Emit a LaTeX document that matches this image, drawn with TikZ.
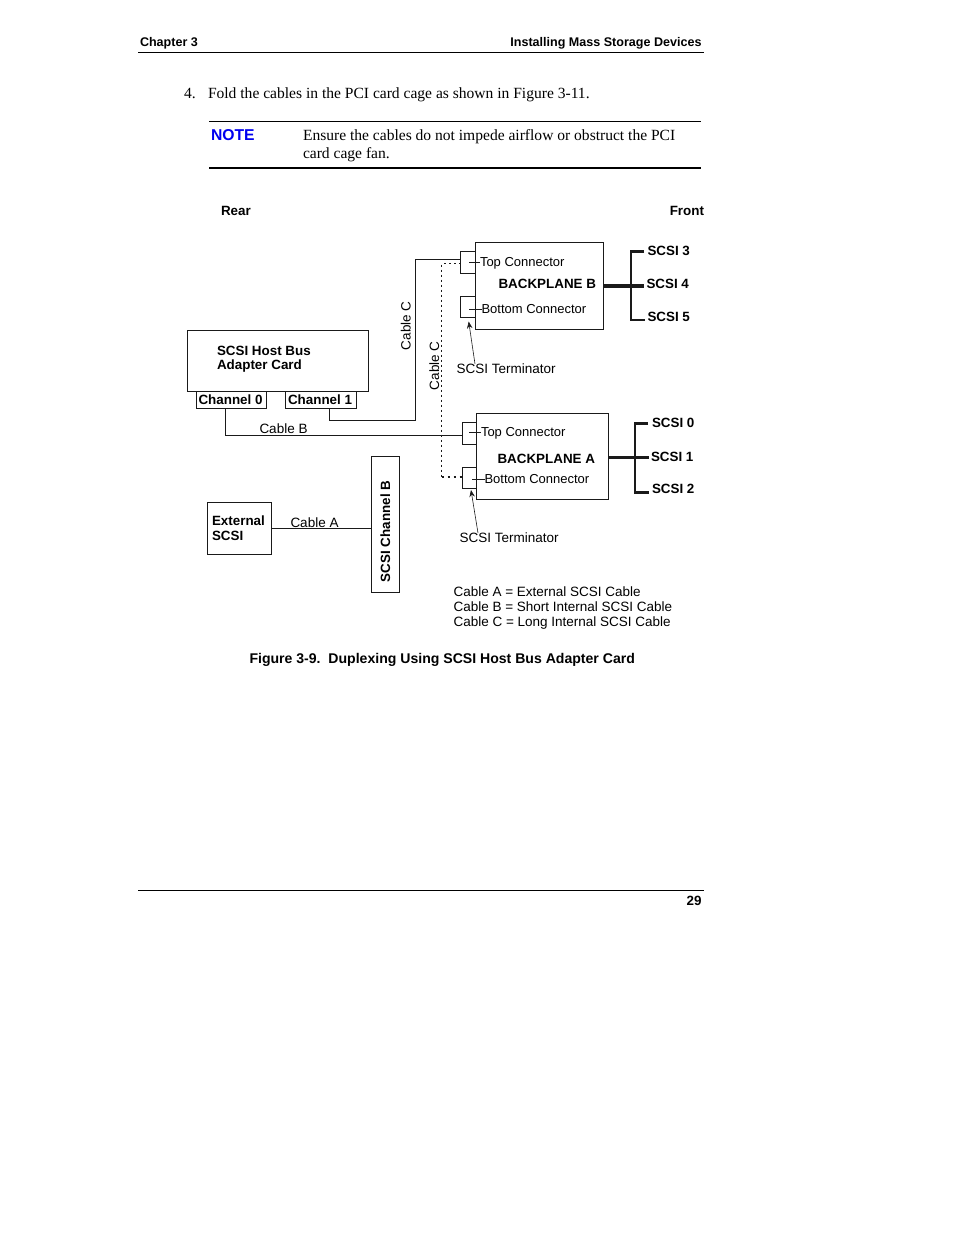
\documentclass[tikz,border=0pt]{standalone}
\usepackage{fontspec}
\setmainfont{Liberation Sans}
\newfontfamily\serifface{Liberation Serif}
\usetikzlibrary{arrows.meta,calc}
\definecolor{ink}{HTML}{1A1A1A}
\definecolor{noteblue}{HTML}{0000F0}
\tikzset{
  boxs/.style={draw=ink,line width=1pt,anchor=north west,inner sep=0pt,outer sep=0pt},
  txt/.style={anchor=base west,inner sep=0pt,outer sep=0pt,text=black,font=\fontsize{13}{15}\selectfont,align=left},
  widetxt/.style={txt,font=\fontsize{13.5}{15}\selectfont},
  boldtxt/.style={txt,font=\fontsize{13.4}{15}\selectfont\bfseries},
  headtxt/.style={txt,font=\fontsize{12.55}{14}\selectfont\bfseries},
  bodytxt/.style={txt,font=\fontsize{15.55}{17}\selectfont\serifface},
  wire/.style={draw=ink,line width=1.2pt},
  dots/.style={draw=ink,line width=1pt,dash pattern=on 2pt off 3pt},
  heavydots/.style={draw=ink,line width=1.6pt,dash pattern=on 2pt off 4pt},
  tick/.style={draw=ink,line width=0.7pt},
  bus/.style={draw=ink,line width=2.8pt},
  pointer/.style={draw=ink,line width=0.6pt,-{Stealth[length=7pt,width=5.5pt]}},
  rule/.style={draw=black,line width=0.8pt},
}
\begin{document}
\begin{tikzpicture}[x=1pt,y=-1pt]
\useasboundingbox (0,0) rectangle (954,1235);
\fill[white] (0,0) rectangle (954,1235);
% page furniture
\node[headtxt] (chap) at (140,46) {Chapter 3};
\node[headtxt,anchor=base east] (title) at (701.5,46) {Installing Mass Storage Devices};
\coordinate (hruleL) at (138,52.5); \coordinate (hruleR) at (704,52.5);
\draw[rule] (hruleL) -- (hruleR);
\node[bodytxt] (stepnum) at (184,98) {4.};
\node[bodytxt] (steptext) at (208,98) {Fold the cables in the PCI card cage as shown in Figure 3-11.};
\coordinate (noteTL) at (209,121.5); \coordinate (noteTR) at (701,121.5);
\coordinate (noteBL) at (209,168); \coordinate (noteBR) at (701,168);
\draw[rule] (noteTL) -- (noteTR);
\draw[draw=black,line width=1.6pt] (noteBL) -- (noteBR);
\node[txt,text=noteblue,font=\fontsize{15.7}{18}\selectfont\bfseries] (note) at (211,140) {NOTE};
\node[bodytxt] (notetext1) at (303,140) {Ensure the cables do not impede airflow or obstruct the PCI};
\node[bodytxt] (notetext2) at (303,158.5) {card cage fan.};
\node[boldtxt] (rear) at (221,215) {Rear};
\node[boldtxt,anchor=base east] (front) at (704,215) {Front};
% boxes
\node[boxs,minimum width=181pt,minimum height=61pt] (hba) at (187.5,330.5) {};
\node[boxs,minimum width=70pt,minimum height=17pt] (ch0) at (196.5,391.5) {};
\node[boxs,minimum width=71pt,minimum height=17pt] (ch1) at (285.5,391.5) {};
\node[boxs,minimum width=128pt,minimum height=87pt] (bpB) at (475.5,242.5) {};
\node[boxs,minimum width=15pt,minimum height=22pt] (topB) at (460.5,251.5) {};
\node[boxs,minimum width=15pt,minimum height=21pt] (botB) at (460.5,296.5) {};
\node[boxs,minimum width=132pt,minimum height=86pt] (bpA) at (476.5,413.5) {};
\node[boxs,minimum width=14pt,minimum height=22pt] (topA) at (462.5,422.5) {};
\node[boxs,minimum width=14pt,minimum height=21pt] (botA) at (462.5,467.5) {};
\node[boxs,minimum width=64pt,minimum height=52pt] (ext) at (207.5,502.5) {};
\node[boxs,minimum width=28pt,minimum height=136pt] (chB) at (371.5,456.5) {};
% box texts
\node[boldtxt] (hbaT1) at (217,355) {SCSI Host Bus};
\node[boldtxt] (hbaT2) at (217,369) {Adapter Card};
\node[boldtxt] (ch0T) at (198.5,404) {Channel 0};
\node[boldtxt] (ch1T) at (288,404) {Channel 1};
\node[boldtxt] (bpBT) at (498.5,288) {BACKPLANE B};
\node[boldtxt] (bpAT) at (497.5,463) {BACKPLANE A};
\node[txt] (topBT) at (480,266) {Top Connector};
\node[txt] (botBT) at (481.5,313) {Bottom Connector};
\node[txt] (topAT) at (481,436) {Top Connector};
\node[txt] (botAT) at (484.5,483) {Bottom Connector};
\node[boldtxt] (extT1) at (212,525) {External};
\node[boldtxt] (extT2) at (212,540) {SCSI};
\node[boldtxt,rotate=90] (chBT) at (390,582) {SCSI Channel B};
\node[widetxt] (cableB) at (259.5,433) {Cable B};
\node[widetxt] (cableA) at (290.5,527) {Cable A};
\node[widetxt,rotate=90] (cableC1) at (410.5,350) {Cable C};
\node[widetxt,rotate=90] (cableC2) at (439,390) {Cable C};
\node[widetxt] (termB) at (456.5,373) {SCSI Terminator};
\node[widetxt] (termA) at (459.5,542) {SCSI Terminator};
\node[boldtxt] (s3) at (647.5,255) {SCSI 3};
\node[boldtxt] (s4) at (646.5,288) {SCSI 4};
\node[boldtxt] (s5) at (647.5,321) {SCSI 5};
\node[boldtxt] (s0) at (652,427) {SCSI 0};
\node[boldtxt] (s1) at (651,461) {SCSI 1};
\node[boldtxt] (s2) at (652,493) {SCSI 2};
\node[widetxt] (legA) at (453.5,596) {Cable A = External SCSI Cable};
\node[widetxt] (legB) at (453.5,611) {Cable B = Short Internal SCSI Cable};
\node[widetxt] (legC) at (453.5,626) {Cable C = Long Internal SCSI Cable};
\node[txt,font=\fontsize{14.07}{16}\selectfont\bfseries] (caption) at (249.5,663) {Figure 3-9.\ \ Duplexing Using SCSI Host Bus Adapter Card};
% cables
\draw[wire] (ch0.south -| 225.5,0) |- (topA.west |- 0,435.5);
\draw[wire] (ch1.south -| 329.5,0) |- (415.5,420.5) |- (topB.west |- 0,259.5);
\draw[dots] (topB.west |- 0,263.5) -| (441.5,477);
\draw[heavydots] (441.5,477) -- (botA.west |- 0,477);
\draw[wire] (ext.east |- 0,528.5) -- (chB.west |- 0,528.5);
% ticks
\draw[tick] (469,262.5) -- (topBT.west |- 0,262.5);
\draw[tick] (469,309.5) -- (botBT.west |- 0,309.5);
\draw[tick] (469,432.5) -- (topAT.west |- 0,432.5);
\draw[tick] (472,479.5) -- (botAT.west |- 0,479.5);
% terminators
\coordinate (arrB) at (475,364); \coordinate (arrA) at (478,533);
\draw[pointer] (arrB) -- (468.7,321.5);
\draw[pointer] (arrA) -- (471,490);
% buses
\coordinate (jB) at (631,286); \coordinate (jA) at (635,457.5);
\draw[bus,line width=3.2pt] (bpB.east) -- (jB) -- (644,286);
\draw[bus] (644,251.5) -| (jB) |- (645,320);
\draw[bus,line width=2.4pt] (bpA.east |- jA) -- (jA);
\draw[bus,line width=2.4pt] (jA) -- (648.5,457.5);
\draw[bus] (648,423.5) -| (jA) |- (649,492.5);
% footer
\coordinate (fruleL) at (138,890.5); \coordinate (fruleR) at (704,890.5);
\draw[rule] (fruleL) -- (fruleR);
\node[boldtxt,anchor=base east] (pagenum) at (701.5,905) {29};
\end{tikzpicture}
\end{document}
